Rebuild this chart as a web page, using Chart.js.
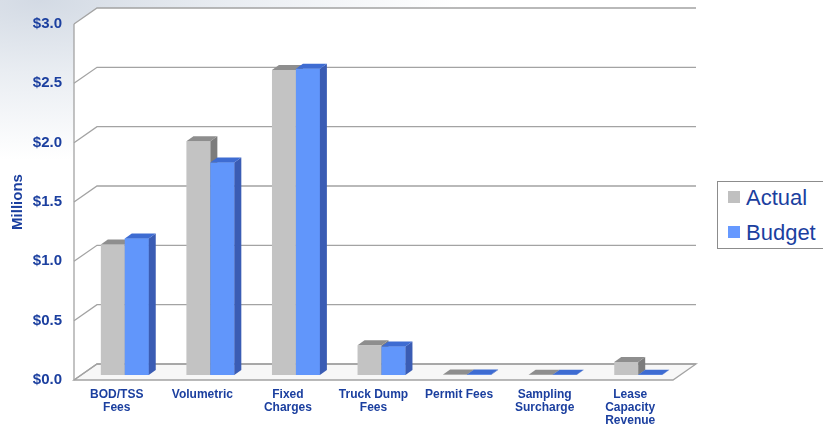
<!DOCTYPE html>
<html>
<head>
<meta charset="utf-8">
<script src="https://cdn.jsdelivr.net/npm/chart.js@4.4.0/dist/chart.umd.min.js"></script>
<style>
  body { margin:0; width:823px; height:429px; overflow:hidden;
    background: radial-gradient(ellipse 420px 160px at 40px 0px, #d3dae4 0%, #e9edf2 45%, #ffffff 100%); }
  #wrap { position:relative; width:823px; height:429px; }
  #legend { position:absolute; left:717px; top:181px; width:105px; height:66px;
    border:1px solid #8c8c8c; background:#fff; font-family:"Liberation Sans", Arial, sans-serif;
    font-size:22px; color:#1b3f9f; }
  #legend div { position:absolute; left:10px; height:32px; line-height:32px; white-space:nowrap; }
  #legend span { display:inline-block; width:12px; height:12px; margin-right:6px; vertical-align:middle; position:relative; top:-2px; }
</style>
</head>
<body>
<div id="wrap">
  <canvas id="chart" width="823" height="429"></canvas>
  <div id="legend">
    <div style="top:0px"><span style="background:#c0c0c0"></span>Actual</div>
    <div style="top:35px"><span style="background:#6699ff"></span>Budget</div>
  </div>
</div>
<script>
// data (millions of $)
const categories = [["BOD/TSS","Fees"], ["Volumetric"], ["Fixed","Charges"], ["Truck Dump","Fees"],
                    ["Permit Fees"], ["Sampling","Surcharge"], ["Lease","Capacity","Revenue"]];
const actual = [1.10, 1.97, 2.57, 0.25, 0.005, 0.002, 0.11];
const budget = [1.15, 1.79, 2.58, 0.24, 0.004, 0.002, 0.003];
const yTicks = [0, 0.5, 1.0, 1.5, 2.0, 2.5, 3.0];

const TEXT = '#1b3f9f';
const DX = 23, DY = -16;  // back wall offset
const BX = 8, BY = -5;    // where the bars sit in depth
const SX = 7, SY = -5;    // bar thickness

const faces = [
  {front:'#c3c3c3', top:'#8e8e8e', side:'#7c7c7c'},
  {front:'#6196fb', top:'#3e6cd2', side:'#3a5cb4'}
];

function drawBox(ctx, bar, f) {
  const p = bar.getProps(['x','y','base','width'], true);
  const l = p.x - p.width/2, r = p.x + p.width/2;
  // side
  ctx.fillStyle = f.side;
  ctx.beginPath();
  ctx.moveTo(r, p.y); ctx.lineTo(r+SX, p.y+SY); ctx.lineTo(r+SX, p.base+SY); ctx.lineTo(r, p.base);
  ctx.closePath(); ctx.fill();
  // top
  ctx.fillStyle = f.top;
  ctx.beginPath();
  ctx.moveTo(l, p.y); ctx.lineTo(r, p.y); ctx.lineTo(r+SX, p.y+SY); ctx.lineTo(l+SX, p.y+SY);
  ctx.closePath(); ctx.fill();
}

const depth = {
  id: 'depth',
  beforeDatasetsDraw(chart) {
    const {ctx, chartArea:a, scales:{y}} = chart;
    ctx.save();
    // walls
    ctx.fillStyle = '#ffffff';
    ctx.fillRect(a.left+DX, a.top+DY, a.right-a.left, a.bottom-a.top);
    ctx.beginPath();
    ctx.moveTo(a.left, a.top); ctx.lineTo(a.left+DX, a.top+DY); ctx.lineTo(a.left+DX, a.bottom+DY); ctx.lineTo(a.left, a.bottom);
    ctx.closePath(); ctx.fill();
    // floor
    ctx.beginPath();
    ctx.moveTo(a.left, a.bottom); ctx.lineTo(a.right, a.bottom); ctx.lineTo(a.right+DX, a.bottom+DY); ctx.lineTo(a.left+DX, a.bottom+DY);
    ctx.closePath();
    ctx.fillStyle = '#f7f7f7'; ctx.fill();
    ctx.strokeStyle = '#a3a3a3'; ctx.lineWidth = 1.3; ctx.stroke();
    // gridlines on the back wall
    y.ticks.forEach(t => {
      const py = y.getPixelForValue(t.value);
      ctx.beginPath();
      ctx.moveTo(a.left, py); ctx.lineTo(a.left+DX, py+DY); ctx.lineTo(a.right+DX, py+DY);
      ctx.stroke();
    });
    // front axis
    ctx.beginPath();
    ctx.moveTo(a.left, a.top); ctx.lineTo(a.left, a.bottom);
    ctx.stroke();
    ctx.restore();

    ctx.save();
    ctx.translate(BX, BY);
  },
  afterDatasetsDraw(chart) {
    const ctx = chart.ctx;
    const act = chart.getDatasetMeta(0).data, bud = chart.getDatasetMeta(1).data;
    act.forEach((bar, i) => {
      drawBox(ctx, bar, faces[0]);
      bud[i].draw(ctx);
      drawBox(ctx, bud[i], faces[1]);
    });
    ctx.restore();
  }
};

new Chart("chart", {
  type: 'bar',
  data: {
    labels: categories,
    datasets: [
      { label: 'Actual', data: actual, backgroundColor: faces[0].front },
      { label: 'Budget', data: budget, backgroundColor: faces[1].front }
    ]
  },
  options: {
    responsive: false,
    animation: false,
    layout: { padding: { left: 0, top: 24, right: 150, bottom: 0 } },
    datasets: { bar: { categoryPercentage: 0.56, barPercentage: 1.0, clip: false, borderWidth: 0 } },
    plugins: { legend: { display: false }, tooltip: { enabled: false } },
    scales: {
      x: {
        grid: { display: false, drawTicks: false },
        border: { display: false },
        ticks: { color: TEXT, font: { family: 'Liberation Sans', weight: 'bold', size: 12, lineHeight: 1.1 },
                 padding: 8, maxRotation: 0, autoSkip: false },
        afterFit(scale) { scale.height = 49; }
      },
      y: {
        min: 0, max: 3,
        afterBuildTicks(scale) { scale.ticks = yTicks.map(v => ({ value: v })); },
        grid: { display: false, drawTicks: false },
        border: { display: false },
        ticks: { color: TEXT, font: { family: 'Liberation Sans', weight: 'bold', size: 15 }, padding: 12,
                 callback: v => '$' + v.toFixed(1) },
        title: { display: true, text: 'Millions', color: TEXT, padding: { top: 9, bottom: 0 },
                 font: { family: 'Liberation Sans', weight: 'bold', size: 15 } },
        afterFit(scale) { scale.width = 74; }
      }
    }
  },
  plugins: [depth]
});
</script>
</body>
</html>
